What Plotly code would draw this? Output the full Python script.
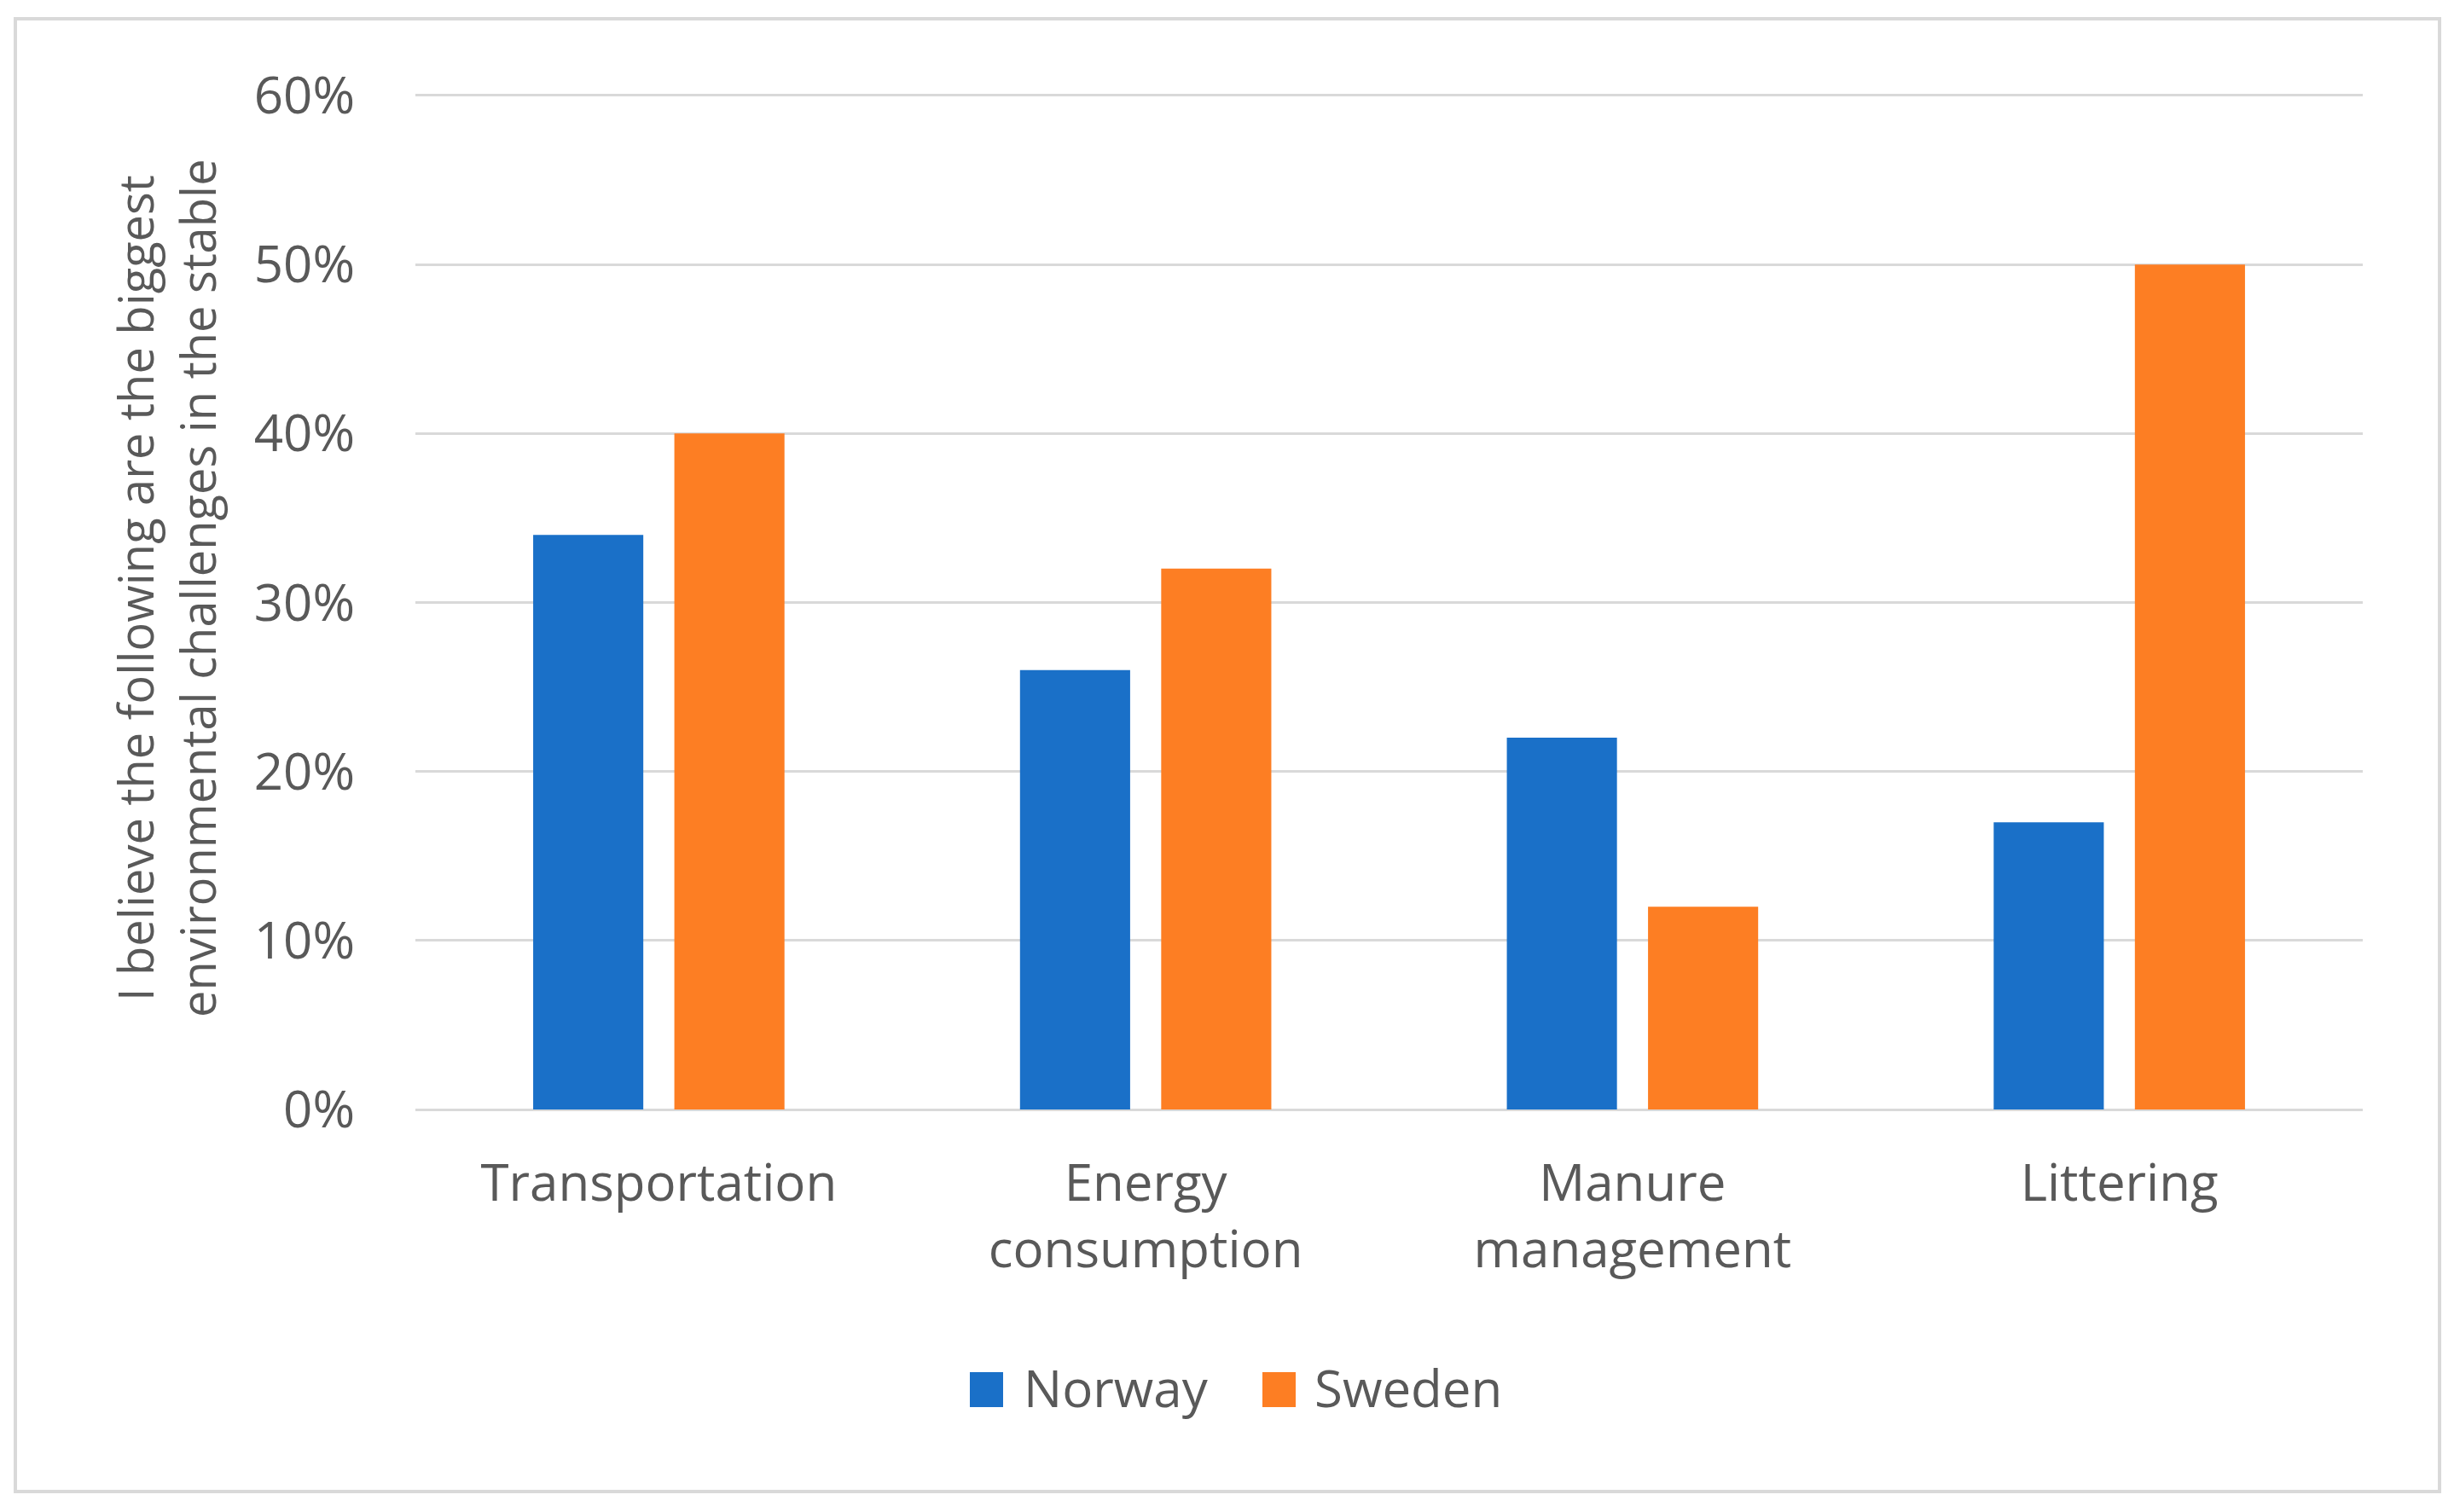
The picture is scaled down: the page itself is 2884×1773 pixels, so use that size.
import plotly.graph_objects as go

# ---- data ----
categories = ["Transportation", "Energy<br>consumption", "Manure<br>management", "Littering"]
series_names = ["Norway", "Sweden"]
norway = [0.34, 0.26, 0.22, 0.17]
sweden = [0.40, 0.32, 0.12, 0.50]
y_ticks = [0, 0.1, 0.2, 0.3, 0.4, 0.5, 0.6]
y_title = "I believe the following are the biggest<br>environmental challenges in the stable"

colors = ["#1A70C8", "#FD7E23"]
text_color = "#595959"
grid_color = "#D9D9D9"
font_family = "Open Sans, Noto Sans, sans-serif"

# page body has an 8px margin: work in screen coordinates and convert
OFF = 8
W, H = 2884 - 2 * OFF, 1773 - 2 * OFF
plot_left, plot_right = 487, 2770          # screen px
plot_top, plot_bottom = 108, 1305          # screen px (range padded slightly)
L = plot_left - OFF
R = W - (plot_right - OFF)
T = plot_top - OFF
B = H - (plot_bottom - OFF)
pw, ph = W - L - R, H - T - B


def px_x(X):
    return (X - OFF - L) / pw


def px_y(Y):
    return (H - B - (Y - OFF)) / ph


fig = go.Figure()
for name, vals, col in zip(series_names, [norway, sweden], colors):
    fig.add_trace(go.Bar(x=categories, y=vals, name=name,
                         marker=dict(color=col, line=dict(width=0)), showlegend=False))

# manual legend (swatches + labels)
legend_items = [(1137, 1198), (1480, 1539)]
shapes = []
annotations = []
for (sx, tx), name, col in zip(legend_items, series_names, colors):
    shapes.append(dict(type="rect", xref="paper", yref="paper",
                       x0=px_x(sx), x1=px_x(sx + 39), y0=px_y(1650), y1=px_y(1609),
                       fillcolor=col, line=dict(width=0)))
    annotations.append(dict(text=name, xref="paper", yref="paper", x=px_x(tx), y=px_y(1627),
                            xanchor="left", yanchor="middle", showarrow=False,
                            font=dict(size=60, color=text_color, family=font_family)))

# outer border
shapes.append(dict(type="rect", xref="paper", yref="paper",
                   x0=px_x(18), x1=px_x(2860), y0=px_y(1749), y1=px_y(22),
                   line=dict(color="#D9D9D9", width=4), fillcolor="rgba(0,0,0,0)", layer="below"))

annotations.append(dict(text=y_title, xref="paper", yref="paper", x=px_x(194), y=px_y(690),
                        xanchor="center", yanchor="middle", textangle=-90, showarrow=False,
                        align="center",
                        font=dict(size=56, color=text_color, family=font_family)))

fig.update_layout(
    width=W, height=H,
    margin=dict(l=L, r=R, t=T, b=B),
    paper_bgcolor="white", plot_bgcolor="white",
    barmode="group", bargap=0.42, bargroupgap=0.22,
    font=dict(family=font_family, color=text_color, size=60),
    shapes=shapes, annotations=annotations,
    showlegend=False,
)
fig.update_xaxes(showgrid=False, showline=False, zeroline=False, ticks="",
                 ticklabelstandoff=42,
                 tickfont=dict(size=60, color=text_color, family=font_family))
fig.update_yaxes(range=[-0.002, 0.602], tickvals=y_ticks, tickformat=".0%",
                 showgrid=True, gridcolor=grid_color, gridwidth=3,
                 zeroline=True, zerolinecolor=grid_color, zerolinewidth=3,
                 showline=False, ticks="", ticklabelstandoff=70,
                 tickfont=dict(size=60, color=text_color, family=font_family))

fig.write_html("out.html")
